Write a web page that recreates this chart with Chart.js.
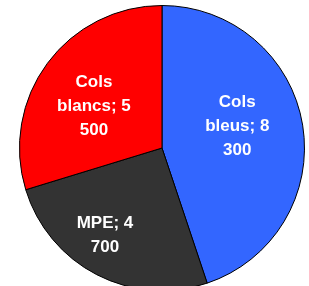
<!DOCTYPE html>
<html>
<head>
<meta charset="utf-8">
<script src="https://cdn.jsdelivr.net/npm/chart.js@4"></script>
<style>
  html, body { margin: 0; padding: 0; background: #fff; overflow: hidden; }
  #wrap { position: relative; width: 309px; height: 296px; }
</style>
</head>
<body>
<div id="wrap"><canvas id="pie"></canvas></div>
<script>
// values
let categories = ["Cols bleus", "MPE", "Cols blancs"]
let values = [8300, 4700, 5500]
let labelLines = [["Cols", "bleus; 8", "300"], ["MPE; 4", "700"], ["Cols", "blancs; 5", "500"]]
let colors = ["#3366ff", "#333333", "#ff0000"]

// where each label sits along its slice (fraction of radius, angle shift in deg)
let labelRadius = [0.55, 0.73, 0.56]
let labelShift = [-7, 6, -5]

const sliceLabels = {
    id: "sliceLabels",
    afterDatasetsDraw(chart) {
        let ctx = chart.ctx
        let meta = chart.getDatasetMeta(0)
        ctx.save()
        ctx.fillStyle = "#fff"
        ctx.font = "bold 17px 'Liberation Sans', Arial, sans-serif"
        ctx.textAlign = "center"
        ctx.textBaseline = "middle"
        meta.data.forEach((arc, i) => {
            let p = arc.getProps(["x", "y", "startAngle", "endAngle", "outerRadius"], true)
            let mid = (p.startAngle + p.endAngle) / 2 + labelShift[i] * Math.PI / 180
            let r = p.outerRadius * labelRadius[i]
            let cx = p.x + Math.cos(mid) * r
            let cy = p.y + Math.sin(mid) * r
            let lines = labelLines[i]
            let lh = 24
            lines.forEach((t, k) => {
                ctx.fillText(t, cx, cy + (k - (lines.length - 1) / 2) * lh)
            })
        })
        ctx.restore()
    }
}

let ctx = document.getElementById("pie").getContext("2d")
new Chart(ctx, {
    type: "pie",
    data: {
        labels: categories,
        datasets: [{
            data: values,
            backgroundColor: colors,
            borderColor: "#000",
            borderWidth: 1
        }]
    },
    options: {
        responsive: true,
        maintainAspectRatio: false,
        animation: false,
        layout: { padding: { left: 19, right: 4, top: 5, bottom: 5 } },
        plugins: {
            legend: { display: false },
            tooltip: { enabled: false }
        }
    },
    plugins: [sliceLabels]
});
</script>
</body>
</html>
